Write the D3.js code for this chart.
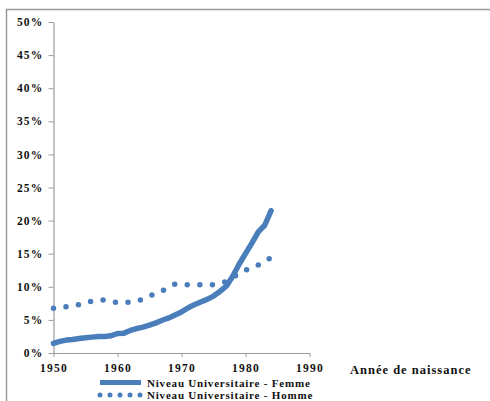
<!DOCTYPE html>
<html><head><meta charset="utf-8">
<script src="https://cdn.jsdelivr.net/npm/d3@7"></script>
<style>
body{margin:0;background:#fff;}
text{font-family:"Liberation Serif","Times New Roman",serif;font-weight:bold;fill:#111;}
</style></head>
<body><svg id="c" width="490" height="401"></svg>
<script>
const years = d3.range(1950, 1985);
const femme = [1.45,1.75,1.95,2.05,2.2,2.3,2.4,2.5,2.5,2.6,2.95,3.0,3.4,3.7,3.9,4.2,4.55,4.95,5.3,5.75,6.2,6.8,7.3,7.7,8.1,8.6,9.3,10.1,11.6,13.4,15.0,16.6,18.3,19.3,21.5];
const homme = [6.75,6.9,7.0,7.15,7.3,7.6,7.85,7.95,8.0,7.8,7.6,7.65,7.7,7.9,8.1,8.6,9.0,9.4,9.9,10.4,10.35,10.3,10.3,10.3,10.3,10.3,10.5,10.8,11.4,12.0,12.5,12.9,13.3,13.9,14.4];
const yTicks = [0,5,10,15,20,25,30,35,40,45,50];
const xTicks = [1950,1960,1970,1980,1990];
const seriesNames = ["Niveau Universitaire - Femme","Niveau Universitaire - Homme"];
const xTitle = "Année de naissance";

const svg = d3.select("#c");
const blue = "#4a7ebb";
svg.append("rect").attr("x",6.5).attr("y",9.5).attr("width",520).attr("height",420)
  .attr("fill","none").attr("stroke","#9a9a9a").attr("stroke-width",1.5);

const x = d3.scaleLinear().domain([1950,1990]).range([53.5,309.5]);
const y = d3.scaleLinear().domain([0,50]).range([353,22]);

const gy = svg.append("g").attr("transform","translate(53.5,0)")
  .call(d3.axisLeft(y).tickValues(yTicks).tickFormat(d=>d+"%").tickSize(5).tickSizeOuter(0).tickPadding(5));
const gx = svg.append("g").attr("transform","translate(0,353)")
  .call(d3.axisBottom(x).tickValues(xTicks).tickFormat(d3.format("d")).tickSize(4).tickSizeOuter(0).tickPadding(3));
[gy,gx].forEach(g=>{
  g.select(".domain").attr("stroke","#9a9a9a").attr("stroke-width",1.2);
  g.selectAll(".tick line").attr("stroke","#9a9a9a");
  g.selectAll("text").attr("font-family","Liberation Serif").attr("font-weight","bold")
   .attr("font-size",11.5).attr("letter-spacing","1.2px").attr("fill","#111");
});
gx.selectAll("text").attr("dy","1.0em");

const line = d3.line().x((d,i)=>x(years[i])).y(d=>y(d)).curve(d3.curveLinear);
svg.append("path").datum(homme).attr("d",line).attr("fill","none").attr("stroke",blue)
  .attr("stroke-width",5.5).attr("stroke-linecap","round").attr("stroke-dasharray","0,12.6");
svg.append("path").datum(femme).attr("d",line).attr("fill","none").attr("stroke",blue)
  .attr("stroke-width",5.5).attr("stroke-linecap","round").attr("stroke-linejoin","round");

svg.append("text").attr("x",350).attr("y",374).attr("font-size",12.5).attr("letter-spacing","1px").text(xTitle);

const leg = [{y:382.5,dash:null},{y:395,dash:"0,10"}];
leg.forEach((l,i)=>{
  svg.append("line").attr("x1",100).attr("x2",141).attr("y1",l.y).attr("y2",l.y)
    .attr("stroke",blue).attr("stroke-width",5).attr("stroke-linecap", l.dash?"round":"butt")
    .attr("stroke-dasharray",l.dash);
  svg.append("text").attr("x",147).attr("y",l.y+4).attr("font-size",11).attr("letter-spacing","0.8px").text(seriesNames[i]);
});
</script></body></html>
